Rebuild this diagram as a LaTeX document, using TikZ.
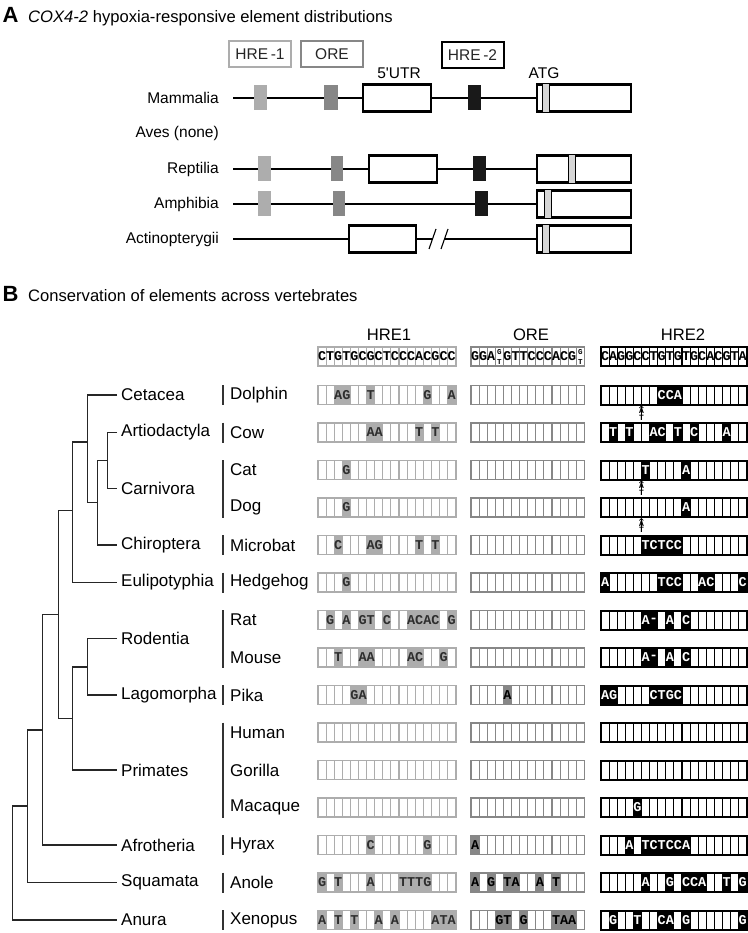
\documentclass[tikz,border=0pt]{standalone}
\usepackage{fontspec}
\setmainfont{Liberation Sans}
\newfontfamily\seqfont{Liberation Mono}
\usetikzlibrary{arrows.meta}

\definecolor{hreonecol}{gray}{0.68}
\definecolor{orecol}{gray}{0.53}
\definecolor{atgcol}{gray}{0.84}
\definecolor{txtgray}{gray}{0.18}

\newcommand{\cellw}{8.1}
% one alignment box: left x, centre y, inner lines, colour, border, letter colour, cell/letter list
\newcommand{\alnrow}[7]{%
  \foreach \i/\lt in {#7}{\ifnum0\i>0 \fill[#4] ({#1+(\i-1)*\cellw},{#2-9.5}) rectangle +(\cellw,19);\fi}
  \foreach \k in {1,...,#3}{\draw[#4,line width=1.1pt] ({#1+\k*\cellw},{#2-9.5}) -- +(0,19);}
  \draw[#4,line width=#5] (#1,{#2-9.5}) rectangle +({(#3+1)*\cellw},19);
  \foreach \i/\lt in {#7}{\ifnum0\i>0 \node[seqtxt,text=#6] at ({#1+(\i-0.5)*\cellw},#2) {\lt};\fi}%
}
\newcommand{\hreonebox}[2]{\alnrow{318}{#1}{16}{hreonecol}{1.6pt}{txtgray}{#2}}
\newcommand{\orebox}[2]{\alnrow{471}{#1}{13}{orecol}{1.6pt}{black}{#2}}
\newcommand{\hretwobox}[2]{\alnrow{601}{#1}{17}{black}{2pt}{white}{#2}}

\begin{document}
\begin{tikzpicture}[x=1pt, y=-1pt,
    ttl/.style={font=\bfseries\fontsize{22}{22}\selectfont, inner sep=0pt},
    hd/.style={font=\fontsize{16.6}{20}\selectfont, inner sep=0pt},
    lbl/.style={font=\fontsize{15.5}{18}\selectfont, inner sep=0pt},
    tax/.style={font=\fontsize{17}{20}\selectfont, anchor=west, inner xsep=4pt, inner ysep=0pt},
    spc/.style={font=\fontsize{17}{20}\selectfont, anchor=west, inner sep=0pt},
    legbox/.style={lbl, minimum width=62pt, minimum height=26pt, line width=2pt, text=black!85},
    seqtxt/.style={font=\seqfont\bfseries\fontsize{13.5}{13.5}\selectfont, inner sep=0pt},
    hdrtxt/.style={font=\seqfont\bfseries\fontsize{13.4}{13.4}\selectfont, inner sep=0pt},
    stk/.style={font=\seqfont\bfseries\fontsize{7.5}{9.6}\selectfont, inner sep=0pt, align=center},
    ins/.style={font=\seqfont\bfseries\fontsize{8}{8}\selectfont, inner sep=0pt},
    genl/.style={line width=1.1pt},
    exon/.style={line width=2.2pt, fill=white},
    atgm/.style={line width=0.9pt, fill=atgcol},
    tree/.style={line width=1.3pt, black!85},
    bar/.style={line width=1.3pt, black!80}]
  \fill[white] (0,0) rectangle (747,933);
  \useasboundingbox (0,0) rectangle (747,933);

  % 1. panel A titles and legend
  \node[ttl, anchor=base west] (ta) at (2.5,22.7) {A};
  \node[hd, anchor=base west] (tat) at (28,22.7) {\textit{COX4-2} hypoxia-responsive element distributions};
  \node[legbox, draw=hreonecol] (lg1) at (260,54) {HRE\,-1};
  \node[legbox, draw=orecol] (lg2) at (332,54) {ORE};
  \node[legbox, draw=black] (lg3) at (472.5,55) {HRE\,-2};
  \node[lbl] (utr) at (399,73) {5\textquotesingle UTR};
  \node[lbl] (atg) at (544,73) {ATG};

  % 2. gene structures
  \node[lbl, anchor=east] (mam) at (219,98) {Mammalia};
  \node[lbl, anchor=east] (ave) at (219,133) {Aves (none)};
  \node[lbl, anchor=east] (rep) at (219,169) {Reptilia};
  \node[lbl, anchor=east] (amp) at (219,204) {Amphibia};
  \node[lbl, anchor=east] (act) at (219,239) {Actinopterygii};

  \draw[genl] (233,98) -- (537,98);
  \fill[hreonecol] (254,85.5) rectangle (267,110.5);
  \fill[orecol] (324,85.5) rectangle (338,110.5);
  \fill[black!90] (468,85.5) rectangle (481,110.5);
  \draw[exon] (363,84.5) rectangle (431,111.5);
  \draw[exon] (537,84.5) rectangle (631,111.5);
  \draw[atgm] (542,83.5) rectangle (549,112.5);

  \draw[genl] (233,169) -- (537,169);
  \fill[hreonecol] (258,156.5) rectangle (271,181.5);
  \fill[orecol] (331,156.5) rectangle (343,181.5);
  \fill[black!90] (473,156.5) rectangle (486,181.5);
  \draw[exon] (369,155.5) rectangle (437,182.5);
  \draw[exon] (537,155.5) rectangle (631,182.5);
  \draw[atgm] (568,154.5) rectangle (575,183.5);

  \draw[genl] (233,204) -- (537,204);
  \fill[hreonecol] (258,191.5) rectangle (271,216.5);
  \fill[orecol] (333,191.5) rectangle (345,216.5);
  \fill[black!90] (475,191.5) rectangle (488,216.5);
  \draw[exon] (537,190.5) rectangle (631,217.5);
  \draw[atgm] (544,189.5) rectangle (551,218.5);

  \draw[genl] (233,239) -- (432.5,239);
  \draw[genl] (444.5,239) -- (537,239);
  \draw[genl] (429,249) -- (436,229);
  \draw[genl] (441,249) -- (448,229);
  \draw[exon] (349,225.5) rectangle (416,252.5);
  \draw[exon] (537,225.5) rectangle (631,252.5);
  \draw[atgm] (542,224.5) rectangle (549,253.5);

  % 3. panel B titles and headers
  \node[ttl, anchor=base west] (tb) at (2.5,301) {B};
  \node[hd, anchor=base west] (tbt) at (28,301) {Conservation of elements across vertebrates};
  \node[hd] (c1) at (389,335) {HRE1};
  \node[hd] (c2) at (531,335) {ORE};
  \node[hd] (c3) at (683,335) {HRE2};

  \hreonebox{356.5}{}
  \orebox{356.5}{}
  \hretwobox{356.5}{}
  \foreach \lt [count=\i] in {C,T,G,T,G,C,G,C,T,C,C,C,A,C,G,C,C}
    {\node[hdrtxt] at ({318+(\i-0.5)*\cellw},356.5) {\lt};}
  \foreach \i/\lt in {1/G,2/G,3/A,5/G,6/T,7/T,8/C,9/C,10/C,11/A,12/C,13/G}
    {\node[hdrtxt] at ({471+(\i-0.5)*\cellw},356.5) {\lt};}
  \foreach \i in {4,14}
    {\node[stk] at ({471+(\i-0.5)*\cellw},356.7) {G\\T};}
  \foreach \lt [count=\i] in {C,A,G,G,C,C,T,G,T,G,T,G,C,A,C,G,T,A}
    {\node[hdrtxt] at ({601+(\i-0.5)*\cellw},356.5) {\lt};}

  % 4. tree
  \node[tax] (cet) at (117,395) {Cetacea};
  \node[tax] (art) at (117,432.5) {Artiodactyla};
  \node[tax] (car) at (117,488.75) {Carnivora};
  \node[tax] (chi) at (117,545) {Chiroptera};
  \node[tax] (eul) at (117,582.5) {Eulipotyphia};
  \node[tax] (rod) at (117,638.75) {Rodentia};
  \node[tax] (lag) at (117,695) {Lagomorpha};
  \node[tax] (pri) at (117,770) {Primates};
  \node[tax] (afr) at (117,845) {Afrotheria};
  \node[tax] (squ) at (117,882.5) {Squamata};
  \node[tax] (anu) at (117,920) {Anura};

  \coordinate (nAC) at (107.3,460.6);
  \coordinate (nACC) at (97.3,502.8);
  \coordinate (nCA) at (87.3,442);
  \coordinate (nL) at (72.7,510.3);
  \coordinate (nG) at (87.3,667);
  \coordinate (nE) at (72.7,718.5);
  \coordinate (nB) at (58.3,614.6);
  \coordinate (nP) at (42.7,730);
  \coordinate (nT) at (27.7,806);
  \coordinate (nR) at (12.7,806);

  \draw[tree] (art.west) -| (nAC) |- (car.west);
  \draw[tree] (nAC) -| (nACC) |- (chi.west);
  \draw[tree] (cet.west) -| (nCA) |- (nACC);
  \draw[tree] (nCA) -| (nL) |- (eul.west);
  \draw[tree] (rod.west) -| (nG) |- (lag.west);
  \draw[tree] (nG) -| (nE) |- (pri.west);
  \draw[tree] (nL) -| (nB) |- (nE);
  \draw[tree] (nB) -| (nP) |- (afr.west);
  \draw[tree] (nP) -| (nT) |- (squ.west);
  \draw[tree] (nT) -| (nR) |- (anu.west);

  % 5. species
  \foreach \n [count=\k from 0] in {Dolphin,Cow,Cat,Dog,Microbat,Hedgehog,Rat,Mouse,Pika,Human,Gorilla,Macaque,Hyrax,Anole,Xenopus}
    {\node[spc] (sp\k) at (230,{395+37.5*\k}) {\n};}
  \foreach \ya/\yb in {385/405, 422.5/442.5, 460/517.5, 535/555, 572.5/592.5, 610/667.5, 685/705, 722.5/817.5, 835/855, 872.5/892.5, 910/930}
    {\draw[bar] (223,\ya) -- (223,\yb);}

  % 6. alignments
  \hreonebox{395}{3/A,4/G,7/T,14/G,17/A}
  \orebox{395}{}
  \hretwobox{395}{8/C,9/C,10/A}
  \hreonebox{432.5}{7/A,8/A,13/T,15/T}
  \orebox{432.5}{}
  \hretwobox{432.5}{2/T,4/T,7/A,8/C,10/T,12/C,16/A}
  \hreonebox{470}{4/G}
  \orebox{470}{}
  \hretwobox{470}{6/T,11/A}
  \hreonebox{507.5}{4/G}
  \orebox{507.5}{}
  \hretwobox{507.5}{11/A}
  \hreonebox{545}{3/C,7/A,8/G,13/T,15/T}
  \orebox{545}{}
  \hretwobox{545}{6/T,7/C,8/T,9/C,10/C}
  \hreonebox{582.5}{4/G}
  \orebox{582.5}{}
  \hretwobox{582.5}{1/A,8/T,9/C,10/C,13/A,14/C,18/C}
  \hreonebox{620}{2/G,4/A,6/G,7/T,9/C,12/A,13/C,14/A,15/C,17/G}
  \orebox{620}{}
  \hretwobox{620}{6/A,7/-,9/A,11/C}
  \hreonebox{657.5}{3/T,6/A,7/A,12/A,13/C,16/G}
  \orebox{657.5}{}
  \hretwobox{657.5}{6/A,7/-,9/A,11/C}
  \hreonebox{695}{5/G,6/A}
  \orebox{695}{5/A}
  \hretwobox{695}{1/A,2/G,7/C,8/T,9/G,10/C}
  \hreonebox{732.5}{}
  \orebox{732.5}{}
  \hretwobox{732.5}{}
  \hreonebox{770}{}
  \orebox{770}{}
  \hretwobox{770}{}
  \hreonebox{807.5}{}
  \orebox{807.5}{}
  \hretwobox{807.5}{5/G}
  \hreonebox{845}{7/C,14/G}
  \orebox{845}{1/A}
  \hretwobox{845}{4/A,6/T,7/C,8/T,9/C,10/C,11/A}
  \hreonebox{882.5}{1/G,3/T,7/A,11/T,12/T,13/T,14/G}
  \orebox{882.5}{1/A,3/G,5/T,6/A,9/A,11/T}
  \hretwobox{882.5}{6/A,9/G,11/C,12/C,13/A,16/T,18/G}
  \hreonebox{920}{1/A,3/T,5/T,8/A,10/A,15/A,16/T,17/A}
  \orebox{920}{4/G,5/T,7/G,11/T,12/A,13/A}
  \hretwobox{920}{2/G,5/T,8/C,9/A,11/G,18/G}

  % 7. insertion marks
  \foreach \yy in {404.5,479.5,517} {
    \draw[-{Straight Barb[length=2pt,width=4pt]}, line width=0.7pt] (641.4,\yy+14.5) -- (641.4,\yy+1);
    \node[ins] at (641.4,\yy+6.5) {A};
    \node[ins] at (641.4,\yy+13) {T};
  }
\end{tikzpicture}
\end{document}
